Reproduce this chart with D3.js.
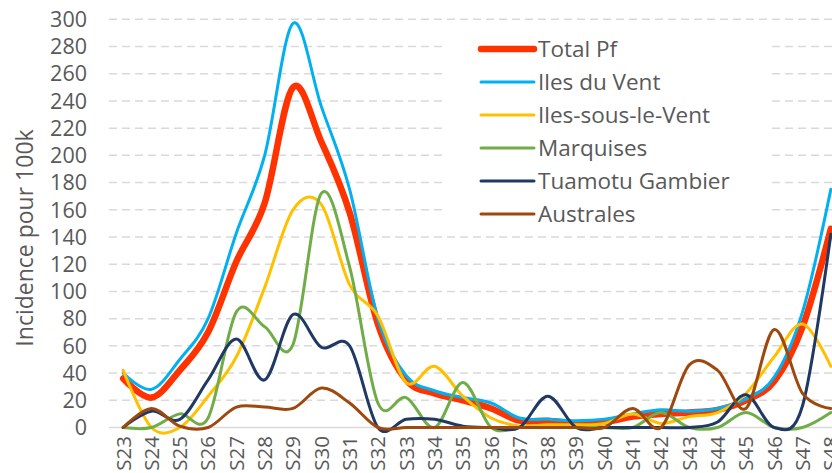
<!DOCTYPE html>
<html>
<head>
<meta charset="utf-8">
<script src="https://cdn.jsdelivr.net/npm/d3@7"></script>
<style>
  body { margin: 0; background: #fff; }
  svg { display: block; font-family: "Open Sans", sans-serif; }
</style>
</head>
<body>
<svg id="svg" width="832" height="473"></svg>
<script>
// weeks + incidence per 100k
var weeks = ["S23","S24","S25","S26","S27","S28","S29","S30","S31","S32","S33","S34","S35",
             "S36","S37","S38","S39","S40","S41","S42","S43","S44","S45","S46","S47","S48"];
var totalPf   = [36, 22, 42, 70, 122, 165, 250, 210, 158, 76, 35, 25, 20, 14, 5, 5, 3, 4, 8, 10, 11, 13, 20, 34, 74, 146];
var ilesVent  = [40, 28, 50, 80, 143, 200, 297, 236, 175, 80, 38, 27, 22, 18, 7, 6, 5, 6, 10, 13, 12, 14, 21, 37, 85, 175];
var sousVent  = [42, 0, 0, 23, 52, 103, 160, 164, 105, 82, 33, 45, 23, 7, 1, 2, 2, 3, 10, 3, 8, 11, 25, 52, 76, 45];
var marquises = [0, 0, 10, 7, 85, 74, 61, 172, 118, 18, 22, 0, 33, 0, 0, 0, 0, 0, 0, 11, 0, 0, 11, 0, 0, 11];
var tuamotu   = [0, 12, 6, 35, 65, 35, 83, 59, 60, 0, 6, 6, 1, 0, 0, 23, 0, 0, 0, 0, 0, 4, 24, 0, 16, 142];
var australes = [0, 14, 1, 0, 15, 15, 14, 29, 18, 0, 0, 0, 0, 0, 0, 0, 0, 0, 14, 0, 46, 42, 14, 72, 25, 14];
var yTicks = [0,20,40,60,80,100,120,140,160,180,200,220,240,260,280,300];

var series = [
  {name: "Total Pf", values: totalPf, color: "#FF3300", w: 6.5},
  {name: "Iles du Vent", values: ilesVent, color: "#00B0F0", w: 3},
  {name: "Iles-sous-le-Vent", values: sousVent, color: "#FFC000", w: 3},
  {name: "Marquises", values: marquises, color: "#70AD47", w: 3},
  {name: "Tuamotu Gambier", values: tuamotu, color: "#203864", w: 3},
  {name: "Australes", values: australes, color: "#9E480E", w: 3}
];

var svg = d3.select("#svg");
var plotL = 109, plotR = 845, plotT = 19.3, plotB = 427.5;

var x = d3.scalePoint().domain(weeks).range([plotL, plotR]).padding(0.5);
var y = d3.scaleLinear().domain([0, 300]).range([plotB, plotT]);

// gridlines
svg.append("g").selectAll("line").data(yTicks).enter().append("line")
  .attr("x1", plotL).attr("x2", plotR)
  .attr("y1", function(d){ return y(d); })
  .attr("y2", function(d){ return y(d); })
  .attr("stroke", "#D9D9D9")
  .attr("stroke-width", 1.5)
  .attr("stroke-dasharray", function(d){ return d === 0 ? null : "8,5"; });

// y tick labels
svg.append("g").selectAll("text").data(yTicks).enter().append("text")
  .attr("x", 87)
  .attr("y", function(d){ return y(d); })
  .attr("dy", "0.36em")
  .attr("text-anchor", "end")
  .attr("fill", "#595959")
  .attr("font-size", 21.5)
  .text(function(d){ return d; });

// x tick labels, rotated
svg.append("g").selectAll("text").data(weeks).enter().append("text")
  .attr("transform", function(d){ return "translate(" + x(d) + ",436) rotate(-90)"; })
  .attr("dy", "0.36em")
  .attr("text-anchor", "end")
  .attr("fill", "#595959")
  .attr("font-size", 20.5)
  .text(function(d){ return d; });

// axis title
svg.append("text")
  .attr("transform", "translate(25,238) rotate(-90)")
  .attr("dy", "0.36em")
  .attr("text-anchor", "middle")
  .attr("fill", "#595959")
  .attr("font-size", 23)
  .text("Incidence pour 100k");

// smoothed lines
var line = d3.line()
  .x(function(d, i){ return x(weeks[i]); })
  .y(function(d){ return y(d); })
  .curve(d3.curveCardinal.tension(0));

svg.append("g").selectAll("path").data(series).enter().append("path")
  .attr("d", function(s){ return line(s.values); })
  .attr("fill", "none")
  .attr("stroke", function(s){ return s.color; })
  .attr("stroke-width", function(s){ return s.w; })
  .attr("stroke-linejoin", "round")
  .attr("stroke-linecap", "round");

// legend (white box hides gridlines behind it)
svg.append("rect")
  .attr("x", 442).attr("y", 30).attr("width", 325).attr("height", 198)
  .attr("fill", "#fff");

var leg = svg.append("g").selectAll("g").data(series).enter().append("g")
  .attr("transform", function(s, i){ return "translate(0," + (49 + i * 33) + ")"; });
leg.append("line")
  .attr("x1", 481).attr("x2", 534)
  .attr("stroke", function(s){ return s.color; })
  .attr("stroke-width", function(s){ return s.w; })
  .attr("stroke-linecap", "round");
leg.append("text")
  .attr("x", 538)
  .attr("dy", "0.36em")
  .attr("fill", "#595959")
  .attr("font-size", 22.5)
  .text(function(s){ return s.name; });
</script>
</body>
</html>
